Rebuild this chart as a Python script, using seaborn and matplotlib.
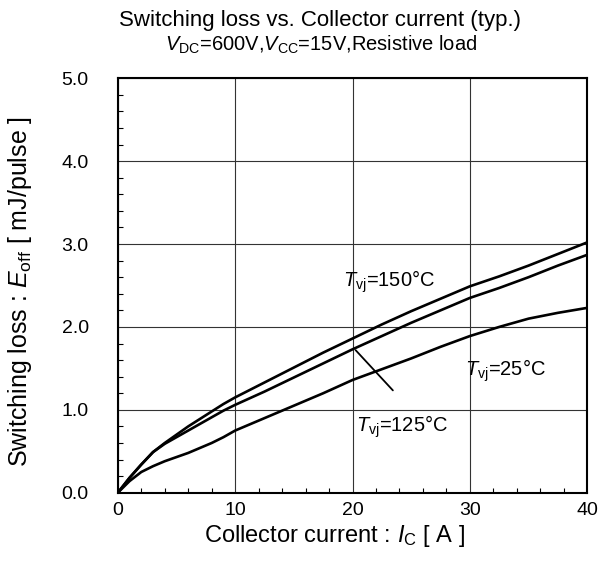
import numpy as np
import pandas as pd
import matplotlib
matplotlib.use("Agg")
import matplotlib.pyplot as plt
from matplotlib.ticker import MultipleLocator, FormatStrFormatter
import seaborn as sns

# collector current [A]
ic = [0, 1, 2, 3, 4, 5, 6, 7, 8, 9, 10, 12.5, 15, 17.5, 20, 22.5, 25, 27.5, 30, 32.5, 35, 37.5, 40]

# Eoff [mJ/pulse]
e_150 = [0, 0.18, 0.34, 0.49, 0.60, 0.70, 0.80, 0.89, 0.98, 1.07, 1.15, 1.33, 1.51, 1.69, 1.86, 2.03, 2.19, 2.34, 2.49, 2.61, 2.74, 2.88, 3.02]
e_125 = [0, 0.18, 0.34, 0.49, 0.59, 0.67, 0.75, 0.83, 0.91, 0.99, 1.06, 1.22, 1.39, 1.56, 1.73, 1.89, 2.05, 2.20, 2.35, 2.47, 2.60, 2.74, 2.87]
e_25 = [0, 0.14, 0.25, 0.32, 0.38, 0.43, 0.48, 0.54, 0.60, 0.67, 0.75, 0.90, 1.05, 1.20, 1.36, 1.49, 1.62, 1.76, 1.89, 2.00, 2.10, 2.17, 2.23]

series_names = ["150", "125", "25"]

df = pd.DataFrame({
    "ic": ic * 3,
    "eoff": e_150 + e_125 + e_25,
    "tvj": [series_names[0]] * len(ic) + [series_names[1]] * len(ic) + [series_names[2]] * len(ic),
})

sns.set_style("white")
plt.rcParams["font.family"] = ["Liberation Sans", "DejaVu Sans"]
plt.rcParams["mathtext.fontset"] = "custom"
plt.rcParams["mathtext.rm"] = "Liberation Sans"
plt.rcParams["mathtext.it"] = "Liberation Sans:italic"
plt.rcParams["text.color"] = "black"
plt.rcParams["axes.labelcolor"] = "black"
plt.rcParams["xtick.color"] = "black"
plt.rcParams["ytick.color"] = "black"

fig = plt.figure(figsize=(5.98, 5.67), dpi=100)
ax = fig.add_axes([0.197, 0.131, 0.785, 0.731])

sns.lineplot(data=df, x="ic", y="eoff", hue="tvj", palette=["black"] * 3,
             linewidth=1.9, legend=False, ax=ax)

ax.set_xlim(0, 40)
ax.set_ylim(0, 5)
ax.xaxis.set_major_locator(MultipleLocator(10))
ax.xaxis.set_minor_locator(MultipleLocator(2))
ax.yaxis.set_major_locator(MultipleLocator(1))
ax.yaxis.set_minor_locator(MultipleLocator(0.2))
ax.yaxis.set_major_formatter(FormatStrFormatter("%.1f"))
ax.grid(True, which="major", color="#333333", linewidth=0.8)
ax.tick_params(which="both", direction="in", bottom=True, left=True, top=False, right=False)
ax.tick_params(which="major", length=0, labelsize=14)
ax.tick_params(which="minor", length=3.5, width=0.8)
ax.tick_params(axis="y", which="major", pad=21)
ax.tick_params(axis="x", which="major", pad=7)
for s in ax.spines.values():
    s.set_color("black")
    s.set_linewidth(1.5)

ax.set_xlabel("Collector current : $\\mathit{I}_{\\mathrm{C}}$ [ A ]", fontsize=17)
ax.set_ylabel("Switching loss : $\\mathit{E}_{\\mathrm{off}}$ [ mJ/pulse ]", fontsize=18)
ax.xaxis.set_label_coords(0.462, -0.072)
ax.yaxis.set_label_coords(-0.178, 0.485)

fig.text(0.535, 0.963, "Switching loss vs. Collector current (typ.)", ha="center", va="center", fontsize=16)
fig.text(0.537, 0.921, "$\\mathit{V}_{\\mathrm{DC}}$=600V,$\\mathit{V}_{\\mathrm{CC}}$=15V,Resistive load",
         ha="center", va="center", fontsize=14.5)

ax.text(19.2, 2.54, "$\\mathit{T}_{\\mathrm{vj}}$=150\u00b0C", fontsize=14.5, va="center", ha="left")
ax.text(29.6, 1.47, "$\\mathit{T}_{\\mathrm{vj}}$=25\u00b0C", fontsize=14.5, va="center", ha="left")
ax.text(20.3, 0.80, "$\\mathit{T}_{\\mathrm{vj}}$=125\u00b0C", fontsize=14.5, va="center", ha="left")
ax.annotate("", xy=(20.1, 1.745), xytext=(23.6, 1.21),
            arrowprops=dict(arrowstyle="-", color="black", linewidth=1.3))

fig.savefig("out.png", dpi=100)
